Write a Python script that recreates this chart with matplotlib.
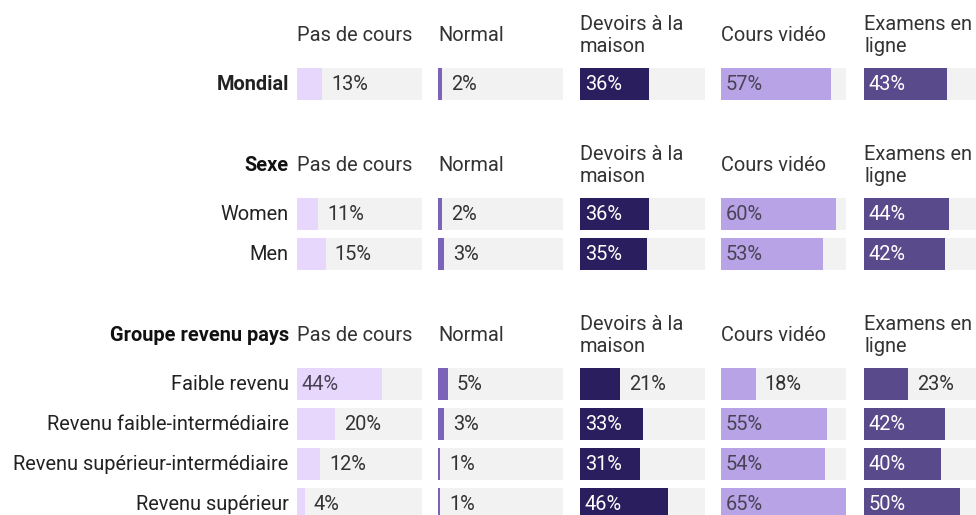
import matplotlib
matplotlib.use("Agg")
import matplotlib.pyplot as plt

plt.rcParams["font.family"] = ["Roboto", "DejaVu Sans"]

columns = ["Pas de cours", "Normal", "Devoirs à la\nmaison", "Cours vidéo", "Examens en\nligne"]
colors = ["#e8d7fc", "#7a63b8", "#2b1e5e", "#b7a3e6", "#594a8c"]
text_on_bar = ["#4a4356", "white", "white", "#4a4356", "white"]

groups = ["", "Sexe", "Groupe revenu pays"]
row_labels = [
    ["Mondial"],
    ["Women", "Men"],
    ["Faible revenu", "Revenu faible-intermédiaire",
     "Revenu supérieur-intermédiaire", "Revenu supérieur"],
]
# values per group: rows x columns (percent)
mondial = [[13, 2, 36, 57, 43]]
sexe = [[11, 2, 36, 60, 44],
        [15, 3, 35, 53, 42]]
revenu = [[44, 5, 21, 18, 23],
          [20, 3, 33, 55, 42],
          [12, 1, 31, 54, 40],
          [4, 1, 46, 65, 50]]
values = [mondial, sexe, revenu]

vmax = 65

# layout in row units (1 unit = one row pitch)
W, H = 976, 515
pitch = 40
header_to_row = 1.225
row_to_header = 2.025
bar_h = 0.82
col_left = [297, 438, 580, 721, 864]
col_w = 125
fs = 14.4

fig = plt.figure(figsize=(W / 100, H / 100), dpi=100)

# compute y positions
header_y = []
row_y = []
y = 0.875
for g, labels in enumerate(row_labels):
    header_y.append(y)
    ys = [y + header_to_row + i for i in range(len(labels))]
    row_y.append(ys)
    y = ys[-1] + row_to_header

ylim = (H / pitch, 0)

axes = []
for c in range(len(columns)):
    ax = fig.add_axes([col_left[c] / W, 0, col_w / W, 1])
    ax.set_xlim(0, vmax)
    ax.set_ylim(*ylim)
    ax.axis("off")
    axes.append(ax)

for g in range(len(groups)):
    for c, ax in enumerate(axes):
        ax.text(0, header_y[g], columns[c], ha="left", va="center",
                fontsize=fs, color="#333333", linespacing=1.2)
        for r, yy in enumerate(row_y[g]):
            v = values[g][r][c]
            ax.barh(yy, vmax, height=bar_h, left=0, color="#f2f2f2", zorder=1)
            ax.barh(yy, v, height=bar_h, left=0, color=colors[c], zorder=2)
            if v >= 25:
                ax.annotate(f"{v}%", (0, yy), xytext=(3.5, 0), textcoords="offset points",
                            ha="left", va="center", fontsize=fs, color=text_on_bar[c], zorder=3)
            else:
                ax.annotate(f"{v}%", (v, yy), xytext=(6.5, 0), textcoords="offset points",
                            ha="left", va="center", fontsize=fs, color="#333333", zorder=3)

    # row labels and group titles to the left of the first column
    ax0 = axes[0]
    if groups[g]:
        ax0.annotate(groups[g], (0, header_y[g]), xytext=(-6, 0), textcoords="offset points",
                     ha="right", va="center", fontsize=fs, fontweight="bold", color="#111111",
                     annotation_clip=False)
    for r, yy in enumerate(row_y[g]):
        bold = groups[g] == ""
        ax0.annotate(row_labels[g][r], (0, yy), xytext=(-6, 0), textcoords="offset points",
                     ha="right", va="center", fontsize=fs,
                     fontweight="bold" if bold else "normal", color="#222222",
                     annotation_clip=False)

fig.savefig("out.png", dpi=100)
